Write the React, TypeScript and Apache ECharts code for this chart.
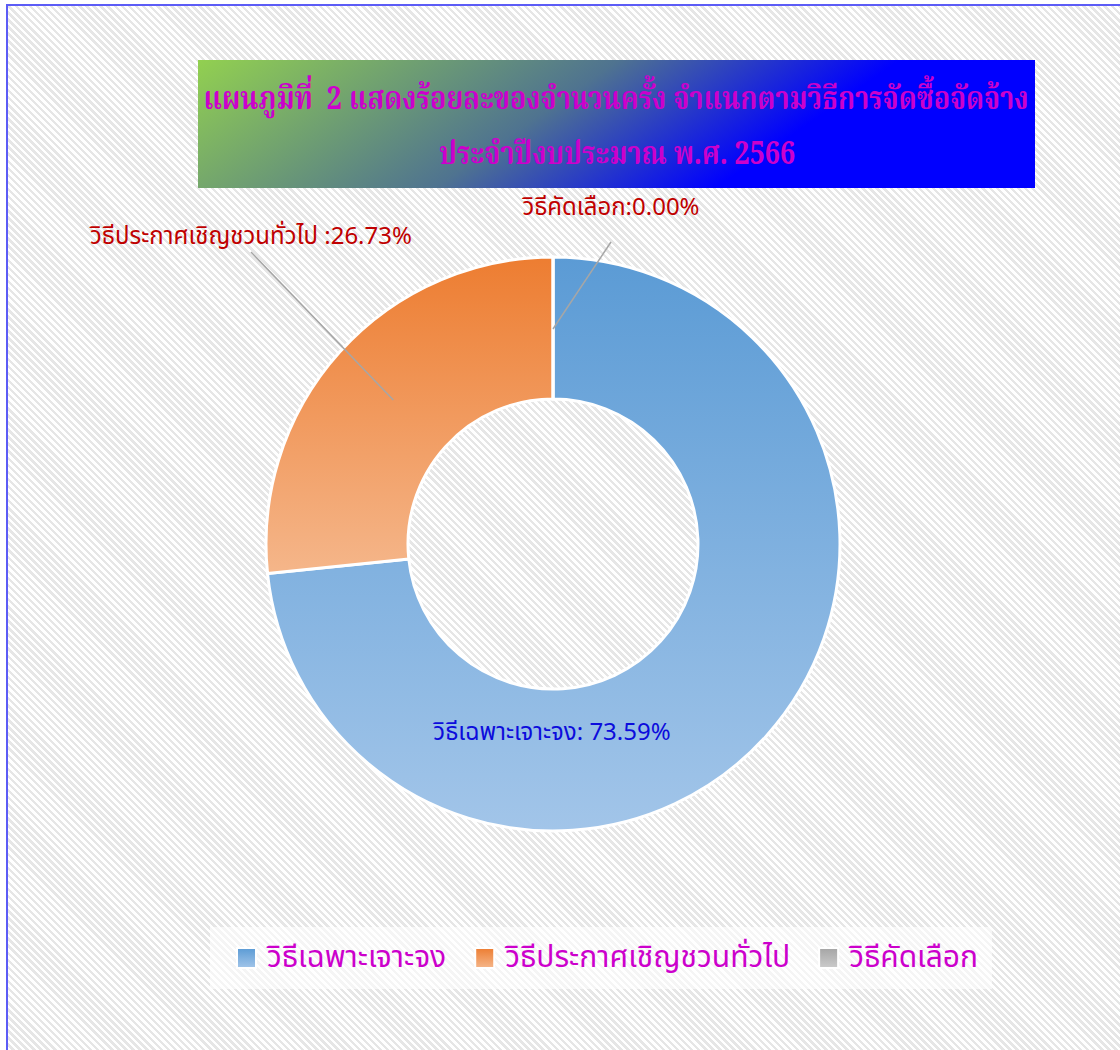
import React, { useEffect, useRef } from "react";
import * as echarts from "echarts";

// ---- data ----
const titleLines = [
  "แผนภูมิที่  2 แสดงร้อยละของจำนวนครั้ง จำแนกตามวิธีการจัดซื้อจัดจ้าง",
  "ประจำปีงบประมาณ พ.ศ. 2566",
];
const categories = ["วิธีเฉพาะเจาะจง", "วิธีประกาศเชิญชวนทั่วไป", "วิธีคัดเลือก"];
const percentValues = [73.59, 26.73, 0.0];
const labelSeparators = [": ", " :", ":"];

// ---- styles ----
const sliceTopColors = ["#5b9bd5", "#ed7d31", "#a5a5a5"];
const sliceBottomColors = ["#a2c5e9", "#f5b68a", "#cbcbcb"];
const labelColors = ["#0c0cdc", "#c00000", "#c00000"];
const labelCenters: [number, number][] = [
  [552, 733],
  [251, 237],
  [611, 208],
];
const labelLineGaps = [0, 3, 22];

const THAI_SANS = "Tahoma, 'Noto Sans Thai', Loma, Garuda, 'DejaVu Sans', sans-serif";
const THAI_SERIF = "'Angsana New', 'Noto Serif Thai', Norasi, Kinnari, 'Liberation Serif', serif";

export default function App() {
  const ref = useRef<HTMLDivElement>(null);

  useEffect(() => {
    const chart = echarts.init(ref.current!, null, { renderer: "svg" });
    const grad = (top: string, bottom: string) =>
      new echarts.graphic.LinearGradient(0, 0, 0, 1, [
        { offset: 0, color: top },
        { offset: 1, color: bottom },
      ]);

    const ringData = categories.map((name, i) => ({
      name,
      value: percentValues[i],
      itemStyle: { color: grad(sliceTopColors[i], sliceBottomColors[i]) },
    }));

    const labelData = categories.map((name, i) => ({
      name,
      value: percentValues[i],
      label: {
        color: labelColors[i],
        formatter: `${name}${labelSeparators[i]}${percentValues[i].toFixed(2)}%`,
      },
      labelLine: { show: i !== 0 },
    }));

    const titleFont = `bold 32px ${THAI_SERIF}`;

    chart.setOption({
      animation: false,
      backgroundColor: "transparent",
      graphic: [
        {
          type: "rect",
          shape: { x: 198, y: 60, width: 837, height: 128 },
          style: {
            fill: new echarts.graphic.LinearGradient(0, 0, 1, 0.22, [
              { offset: 0, color: "#92d050" },
              { offset: 0.48, color: "#4f7390" },
              { offset: 0.8, color: "#0000ff" },
              { offset: 1, color: "#0000ff" },
            ]),
          },
          z: 0,
        },
        {
          type: "text",
          x: 616,
          y: 100,
          scaleX: 0.845,
          style: {
            text: titleLines[0],
            align: "center",
            verticalAlign: "middle",
            fill: "#cc00cc",
            font: titleFont,
          },
          z: 1,
        },
        {
          type: "text",
          x: 617,
          y: 155,
          scaleX: 0.845,
          style: {
            text: titleLines[1],
            align: "center",
            verticalAlign: "middle",
            fill: "#cc00cc",
            font: titleFont,
          },
          z: 1,
        },
      ],
      legend: {
        data: categories,
        left: 210,
        top: 927,
        padding: [16, 14, 16, 26],
        backgroundColor: "rgba(255,255,255,0.6)",
        itemWidth: 19,
        itemHeight: 20,
        itemGap: 28,
        icon: "rect",
        selectedMode: false,
        itemStyle: { borderColor: "#ffffff", borderWidth: 2 },
        textStyle: {
          fontSize: 30,
          color: "#cc00cc",
          fontFamily: THAI_SANS,
          padding: [0, 0, 0, 6],
        },
      },
      series: [
        {
          type: "pie",
          name: "ring",
          center: [553, 544],
          radius: [145, 287],
          startAngle: 90,
          clockwise: true,
          silent: true,
          label: { show: false },
          labelLine: { show: false },
          itemStyle: { borderColor: "#ffffff", borderWidth: 3 },
          emphasis: { disabled: true },
          data: ringData,
        },
        {
          type: "pie",
          name: "labels",
          center: [553, 544],
          radius: [0, 215],
          startAngle: 90,
          clockwise: true,
          silent: true,
          z: 5,
          avoidLabelOverlap: false,
          minShowLabelAngle: 0,
          itemStyle: { color: "rgba(0,0,0,0)", borderWidth: 0 },
          emphasis: { disabled: true },
          label: {
            show: true,
            position: "outside",
            fontSize: 24,
            fontFamily: THAI_SANS,
          },
          labelLine: {
            show: true,
            length: 10,
            length2: 0,
            smooth: false,
            lineStyle: { color: "#a6a6a6", width: 1.5 },
          },
          labelLayout: (params: any) => {
            const i = params.dataIndex;
            const [lx, ly] = labelCenters[i];
            const out: any = { x: lx, y: ly, align: "center", verticalAlign: "middle" };
            const pts = params.labelLinePoints;
            if (pts && pts.length) {
              const h = params.labelRect ? params.labelRect.height : 24;
              out.labelLinePoints = [
                [pts[0][0], pts[0][1]],
                [lx, ly + h / 2 + labelLineGaps[i]],
                [lx, ly + h / 2 + labelLineGaps[i]],
              ];
            }
            return out;
          },
          data: labelData,
        },
      ],
    });
    return () => chart.dispose();
  }, []);

  return (
    <div>
      <div
        style={{
          position: "absolute",
          left: 6,
          top: 4,
          width: 1114,
          height: 1046,
          boxSizing: "border-box",
          borderLeft: "2px solid #5c5cf6",
          borderTop: "2px solid #5c5cf6",
          background:
            "repeating-linear-gradient(45deg, #ffffff 0px, #ffffff 2.5px, #e6e6e6 2.5px, #e6e6e6 5px)",
        }}
      />
      <div
        ref={ref}
        style={{ position: "absolute", left: 0, top: 0, width: 1120, height: 1050 }}
      />
    </div>
  );
}
